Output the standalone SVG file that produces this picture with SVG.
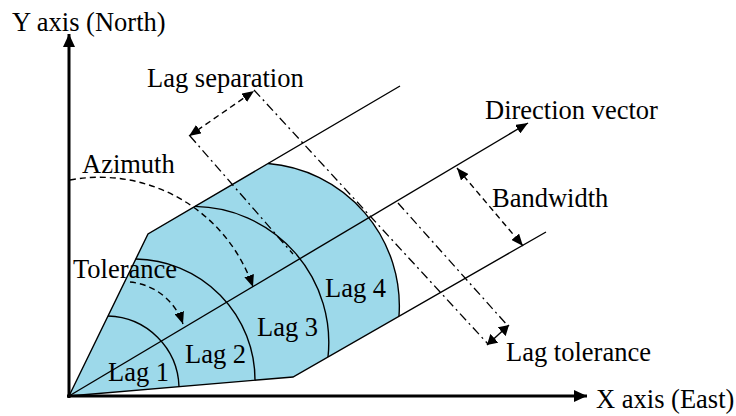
<svg xmlns="http://www.w3.org/2000/svg" width="736" height="416" viewBox="0 0 736 416">
  <style>
    text { font-family: "Liberation Serif", "Times New Roman", serif; font-size: 26.5px; fill: #000; }
    .ln { stroke: #000; stroke-width: 1.4; fill: none; }
    .axis { stroke: #000; stroke-width: 3; fill: none; }
    .dash { stroke: #000; stroke-width: 1.4; fill: none; stroke-dasharray: 6 4; }
    .dd { stroke: #000; stroke-width: 1.3; fill: none; stroke-dasharray: 9 4 2 4; }
  </style>
  <defs>
    <marker id="ah" viewBox="0 0 12 10" refX="12" refY="5" markerWidth="12" markerHeight="10" markerUnits="userSpaceOnUse" orient="auto-start-reverse">
      <path d="M0,0 L12,5 L0,10 z" fill="#000"/>
    </marker>
    <marker id="th" viewBox="0 0 10 12" refX="10" refY="6" markerWidth="10" markerHeight="12" markerUnits="userSpaceOnUse" orient="auto-start-reverse">
      <path d="M0,0 L10,6 L0,12 z" fill="#000"/>
    </marker>
    <marker id="axh" viewBox="0 0 13 12" refX="13" refY="6" markerWidth="13" markerHeight="12" markerUnits="userSpaceOnUse" orient="auto">
      <path d="M0,0 L13,6 L0,12 z" fill="#000"/>
    </marker>
  </defs>

  <g id="search-area">
    <path d="M69,396 L148,234 L268,163.5 A143,143 0 0 1 399,316 L293,377 Z" fill="#9dd9ea" stroke="none"/>
    <path class="ln" d="M69,396 L148,234 L400,86"/>
    <path class="ln" d="M69,396 L293,377 L546,232"/>
  </g>

  <g id="lag-arcs">
    <path class="ln" d="M108,316 A73,73 0 0 1 179,386.7"/>
    <path class="ln" d="M135.8,259 A121,121 0 0 1 255,380.2"/>
    <path class="ln" d="M195,206.4 A136,136 0 0 1 328,357"/>
    <path class="ln" d="M268,163.5 A143,143 0 0 1 399,316"/>
  </g>

  <g id="axes">
    <line class="axis" x1="69" y1="398" x2="69" y2="34" marker-end="url(#axh)"/>
    <line class="axis" x1="67" y1="396" x2="587" y2="396" marker-end="url(#axh)"/>
  </g>

  <g id="connectors">
    <line class="ln" x1="69" y1="396" x2="528" y2="123" marker-end="url(#ah)"/>
    <path class="dash" d="M70,180 A162,162 0 0 1 253,287" marker-end="url(#ah)"/>
    <path class="dash" d="M130,282 A62,62 0 0 1 183,324" marker-end="url(#ah)"/>
    <line class="dash" x1="189" y1="136" x2="254" y2="91" marker-start="url(#ah)" marker-end="url(#ah)"/>
    <line class="dash" x1="457" y1="168" x2="523" y2="246" marker-start="url(#ah)" marker-end="url(#ah)"/>
    <line class="dd" x1="190" y1="136" x2="293" y2="254"/>
    <line class="dd" x1="254" y1="90" x2="488" y2="344"/>
    <line class="dd" x1="398" y1="203" x2="508" y2="326"/>
    <line class="ln" x1="487" y1="345" x2="509" y2="325" marker-start="url(#th)" marker-end="url(#th)"/>
  </g>

  <g id="labels">
    <text x="12" y="31">Y axis (North)</text>
    <text x="596" y="408">X axis (East)</text>
    <text x="147" y="87">Lag separation</text>
    <text x="485" y="119">Direction vector</text>
    <text x="82" y="173">Azimuth</text>
    <text x="492" y="207">Bandwidth</text>
    <text x="73" y="278">Tolerance</text>
    <text x="108" y="381">Lag 1</text>
    <text x="185" y="363">Lag 2</text>
    <text x="257" y="336">Lag 3</text>
    <text x="325" y="297">Lag 4</text>
    <text x="506" y="361">Lag tolerance</text>
  </g>
</svg>
